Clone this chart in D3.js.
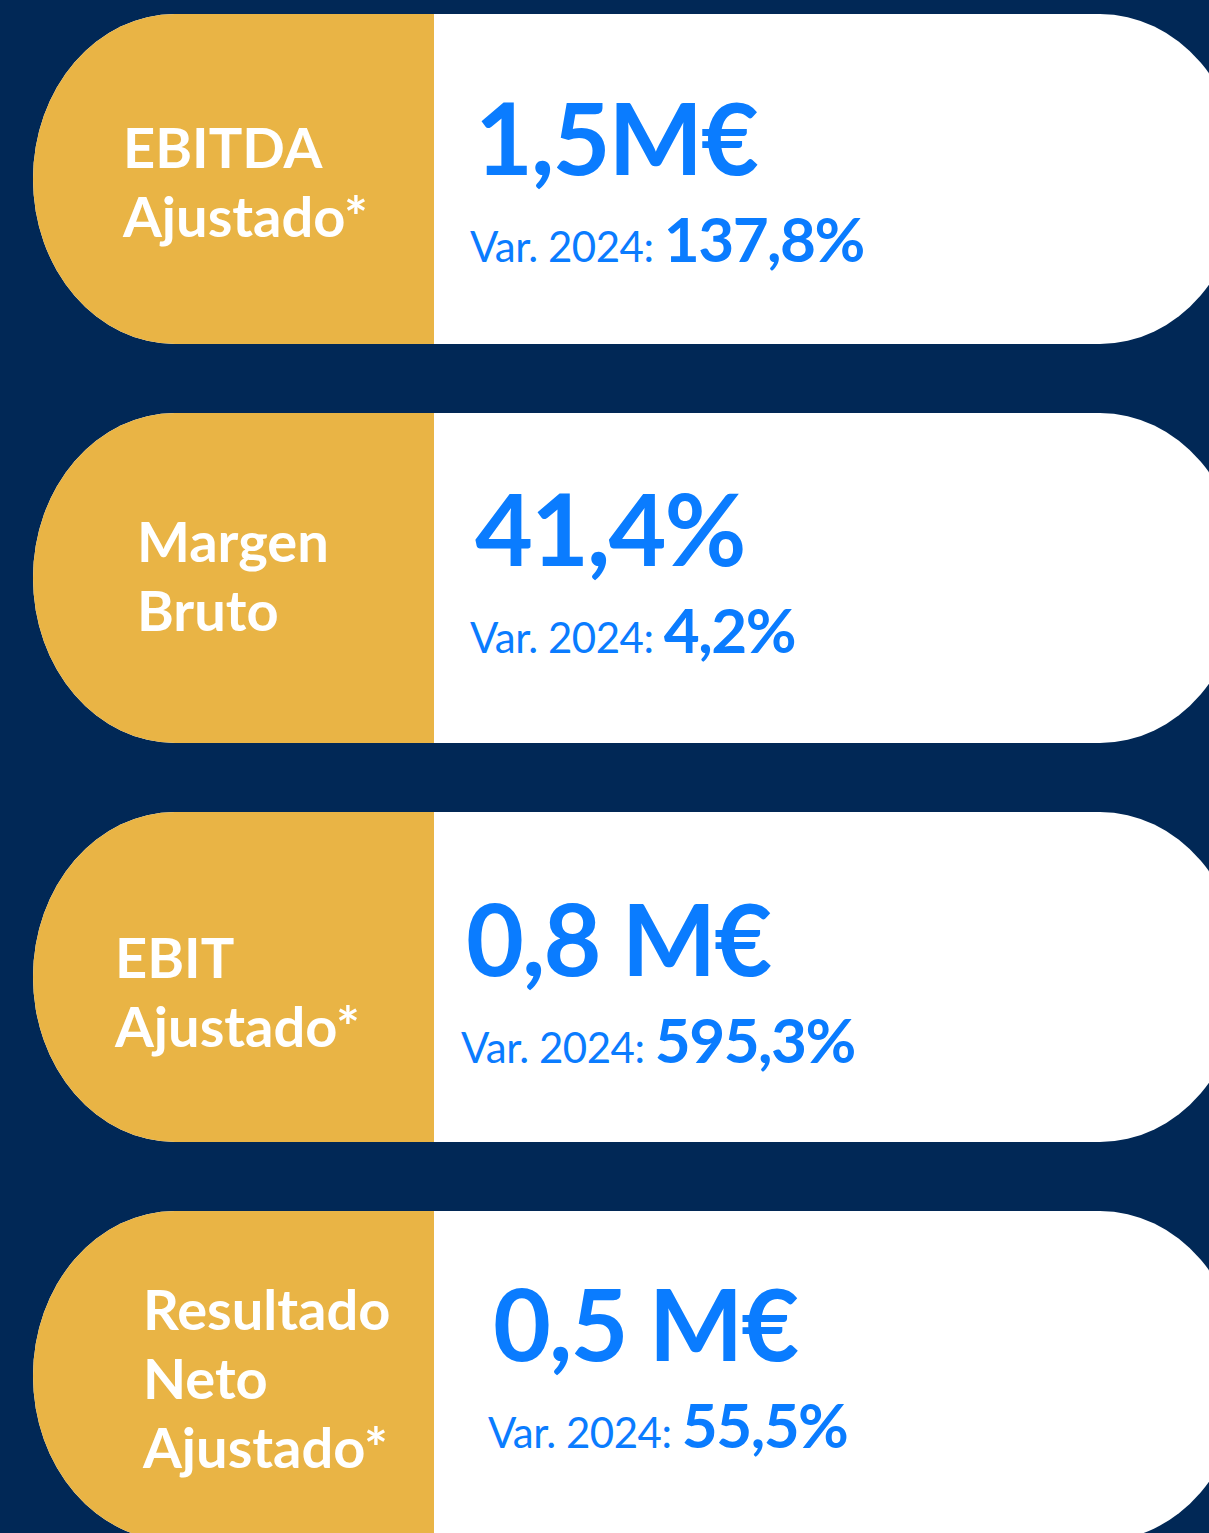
<!DOCTYPE html>
<html>
<head>
<meta charset="utf-8">
<script src="https://cdn.jsdelivr.net/npm/d3@7"></script>
<style>
  html, body { margin: 0; padding: 0; background: #012856; }
  svg { display: block; }
</style>
</head>
<body>
<svg></svg>
<script>
var width = 1209;
var height = 1533;

// data
var labels = [
	['EBITDA', 'Ajustado*'],
	['Margen', 'Bruto'],
	['EBIT', 'Ajustado*'],
	['Resultado', 'Neto', 'Ajustado*']
];
var values = ['1,5M€', '41,4%', '0,8 M€', '0,5 M€'];
var variations = ['137,8%', '4,2%', '595,3%', '55,5%'];
var varPrefix = 'Var. 2024:';

// small per-card nudges, the source slides are not perfectly aligned
var labelX = [123, 137, 115, 143];
var labelY = [154, 149, 166, 119];
var valueX = [475, 475, 466, 493];
var valueDY = [0, -8, 3, -11];

var navy = '#012856';
var gold = '#E9B445';
var blue = '#0A7CFF';
var font = 'Lato, sans-serif';

var svg = d3.select('svg')
	.attr('width', width)
	.attr('height', height);

svg.append('rect')
	.attr('width', width)
	.attr('height', height)
	.attr('fill', navy);

var y = d3.scaleBand()
	.domain(d3.range(values.length))
	.range([14, 1541])
	.paddingInner(0.173);

var cardLeft = 33;
var cardRight = 1242;
var splitX = 434;
var rx = 142;

var defs = svg.append('defs');

var cards = svg.selectAll('g.card')
	.data(values)
	.enter()
	.append('g')
	.attr('class', 'card')
	.attr('transform', function(d, i) { return `translate(0,${y(i)})`; });

cards.each(function(d, i) {
	defs.append('clipPath')
		.attr('id', 'clip' + i)
		.append('rect')
		.attr('x', cardLeft)
		.attr('y', 0)
		.attr('width', cardRight - cardLeft)
		.attr('height', y.bandwidth())
		.attr('rx', rx)
		.attr('ry', y.bandwidth() / 2);
});

cards.append('rect')
	.attr('x', cardLeft)
	.attr('width', cardRight - cardLeft)
	.attr('height', y.bandwidth())
	.attr('rx', rx)
	.attr('ry', y.bandwidth() / 2)
	.attr('fill', '#ffffff');

cards.append('rect')
	.attr('clip-path', function(d, i) { return 'url(#clip' + i + ')'; })
	.attr('x', cardLeft)
	.attr('width', splitX - cardLeft)
	.attr('height', y.bandwidth())
	.attr('fill', gold);

// labels on the gold side
cards.append('text')
	.attr('fill', '#ffffff')
	.attr('font-family', font)
	.attr('font-weight', 700)
	.attr('font-size', 56)
	.each(function(d, i) {
		d3.select(this).selectAll('tspan')
			.data(labels[i])
			.enter()
			.append('tspan')
			.attr('x', labelX[i])
			.attr('y', function(t, j) { return labelY[i] + j * 69; })
			.text(function(t) { return t; });
	});

// big value
cards.append('text')
	.attr('x', function(d, i) { return valueX[i]; })
	.attr('y', function(d, i) { return 161 + valueDY[i]; })
	.attr('fill', blue)
	.attr('font-family', font)
	.attr('font-weight', 700)
	.attr('font-size', 100)
	.attr('letter-spacing', -2)
	.text(function(d) { return d; });

// variation line
var varText = cards.append('text')
	.attr('x', function(d, i) { return valueX[i] - 5; })
	.attr('y', function(d, i) { return 248 + valueDY[i]; })
	.attr('fill', blue)
	.attr('font-family', font);

varText.append('tspan')
	.attr('font-size', 42)
	.attr('font-weight', 400)
	.attr('letter-spacing', -0.5)
	.text(varPrefix + ' ');

varText.append('tspan')
	.attr('font-size', 62)
	.attr('font-weight', 700)
	.attr('letter-spacing', -1.5)
	.text(function(d, i) { return variations[i]; });
</script>
</body>
</html>
